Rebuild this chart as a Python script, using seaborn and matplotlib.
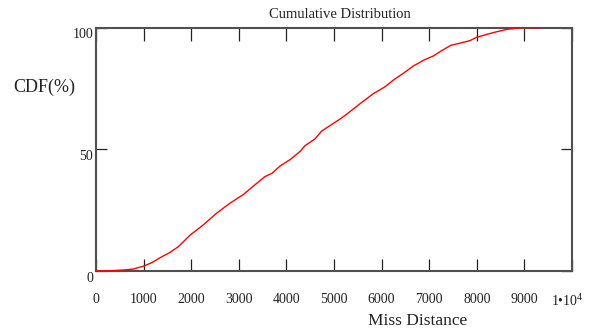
import numpy as np
import pandas as pd
import matplotlib
matplotlib.use("Agg")
import matplotlib.pyplot as plt
import seaborn as sns
from matplotlib.transforms import ScaledTranslation

# Data
miss_distance = [0, 300, 570, 780, 1000, 1170, 1350, 1550, 1730, 1980, 2250, 2530,
                 2810, 3100, 3300, 3550, 3700, 3870, 4080, 4290, 4390, 4600, 4740,
                 4920, 5130, 5270, 5550, 5820, 6070, 6250, 6460, 6670, 6900, 7100,
                 7230, 7450, 7860, 8000, 8350, 8630, 8910, 9330]
cdf_percent = [0, 0.1, 0.4, 0.8, 2.0, 3.4, 5.5, 7.6, 10.0, 14.8, 18.9, 23.7,
               27.8, 31.5, 34.8, 38.8, 40.2, 43.2, 45.8, 49.2, 51.5, 54.3, 57.5,
               59.8, 62.5, 64.5, 68.8, 72.8, 75.7, 78.5, 81.3, 84.3, 86.8, 88.5,
               90.2, 92.7, 94.7, 96.1, 98.0, 99.3, 100, 100]
x_ticks = [0, 1000, 2000, 3000, 4000, 5000, 6000, 7000, 8000, 9000, 10000]
x_tick_labels = ["0", "1000", "2000", "3000", "4000", "5000", "6000", "7000",
                 "8000", "9000", "1\u2022$10^4$"]
y_ticks = [0, 50, 100]
y_tick_labels = ["0", "50", "100"]

sns.set_theme(style="ticks")
plt.rcParams["font.family"] = ["Liberation Serif", "DejaVu Serif"]
plt.rcParams["mathtext.fontset"] = "custom"
plt.rcParams["mathtext.rm"] = "Liberation Serif"
plt.rcParams["mathtext.it"] = "Liberation Serif:italic"

fig = plt.figure(figsize=(5.92, 3.33), dpi=100)
fig.patch.set_facecolor("white")
ax = fig.add_axes([96 / 592, 1 - 271 / 333, 476 / 592, 243.3 / 333])
ax.set_facecolor("white")

df = pd.DataFrame({"Miss Distance": miss_distance, "CDF": cdf_percent})
sns.lineplot(data=df, x="Miss Distance", y="CDF", ax=ax, color="#ff0000",
             linewidth=1.0, clip_on=False, zorder=3)

ax.set_xlim(0, 10000)
ax.set_ylim(0, 100)
ax.set_xticks(x_ticks)
ax.set_xticklabels(x_tick_labels)
ax.set_yticks(y_ticks)
ax.set_yticklabels(y_tick_labels)
ax.set_xlabel("")
ax.set_ylabel("")

ax.tick_params(axis="x", direction="in", length=9, width=0.9, color="#222222",
               top=True, bottom=True, pad=16, labelsize=10, labelcolor="#222222")
ax.tick_params(axis="y", direction="in", length=8, width=0.9, color="#222222",
               left=True, right=True, pad=2, labelsize=10, labelcolor="#222222")

for s in ax.spines.values():
    s.set_color("#505050")
    s.set_linewidth(1.5)
    s.set_visible(True)

# shift y tick labels down slightly as in the reference
for lab in ax.get_yticklabels():
    lab.set_transform(lab.get_transform() + ScaledTranslation(0, -0.055, fig.dpi_scale_trans))
xl = ax.get_xticklabels()
xl[-1].set_transform(xl[-1].get_transform() + ScaledTranslation(-0.05, 0, fig.dpi_scale_trans))

fig.text(340 / 592, 1 - 15 / 333, "Cumulative Distribution", ha="center", va="center",
         fontsize=10.5, color="#222222")
fig.text(13 / 592, 1 - 87 / 333, "CDF(%)", ha="left", va="center",
         fontsize=13, color="#222222")
fig.text(417.5 / 592, 1 - 321 / 333, "Miss Distance", ha="center", va="center",
         fontsize=12.5, color="#222222")

fig.savefig("out.png", dpi=100, facecolor="white")
